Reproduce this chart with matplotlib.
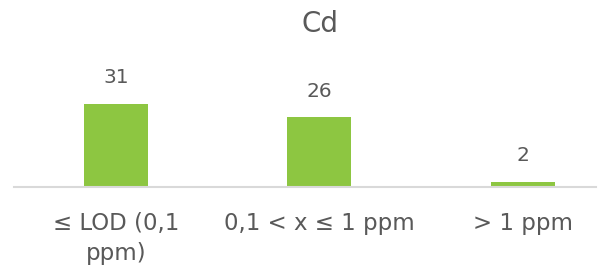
import matplotlib
matplotlib.use('Agg')
import matplotlib.pyplot as plt

# data
categories = ['≤ LOD (0,1\nppm)', '0,1 < x ≤ 1 ppm', '> 1 ppm']
values = [31, 26, 2]

plt.rcParams['font.family'] = ['DejaVu Sans']
text_color = '#595959'
bar_color = '#8DC641'

fig = plt.figure(figsize=(6.06, 2.72), dpi=100)
ax = fig.add_axes([14 / 606, (272 - 187) / 272, (596 - 14) / 606, (187 - 50) / 272])

x = list(range(len(categories)))
bars = ax.bar(x, values, width=0.315, color=bar_color, zorder=2)

ax.set_xlim(-0.501, 2.359)
ax.set_ylim(0, (187 - 50) / 2.68)

for xi, v in zip(x, values):
    ax.annotate(str(v), (xi, v), xytext=(0, 18.7), textcoords='offset points',
                ha='center', va='center', fontsize=14.5, color=text_color)

ax.set_xticks(x)
ax.set_xticklabels(categories, fontsize=16.5, color=text_color, linespacing=1.4)
ax.tick_params(axis='x', length=0, pad=18)
ax.set_yticks([])

for side in ['top', 'right', 'left']:
    ax.spines[side].set_visible(False)
ax.spines['bottom'].set_color('#D9D9D9')
ax.spines['bottom'].set_linewidth(1.5)

fig.text(320 / 606, 1 - 24 / 272, 'Cd', ha='center', va='center',
         fontsize=20, color=text_color)

fig.savefig('out.png', dpi=100)
